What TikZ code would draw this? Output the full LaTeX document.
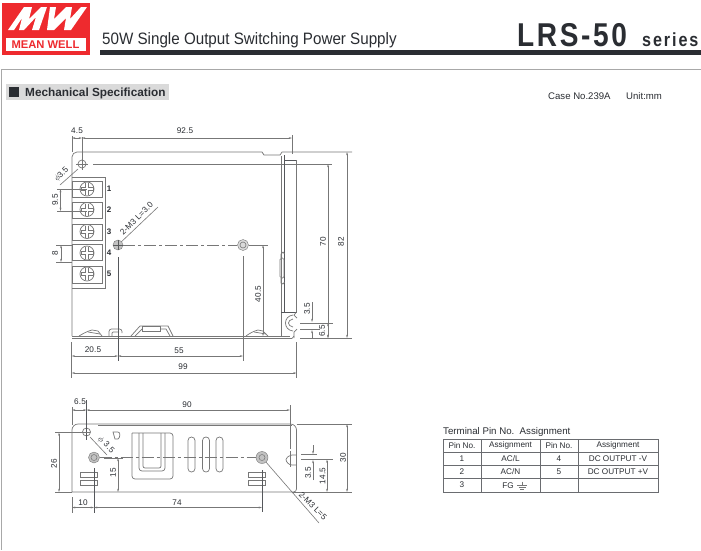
\documentclass[tikz,border=0pt]{standalone}
\usepackage{fontspec}
\setmainfont{Liberation Sans}
\usetikzlibrary{arrows.meta}
\definecolor{ink}{HTML}{2A2D32}
\definecolor{mwred}{HTML}{EE2A2E}
\definecolor{edge}{HTML}{777777}
\definecolor{band}{HTML}{DADADA}
\definecolor{frameg}{HTML}{A8A8A8}
\newcommand{\dimfont}{\fontsize{8.2}{9}\selectfont\addfontfeatures{LetterSpace=2}}
\tikzset{
  x=1pt,y=-1pt,
  lbl/.style={inner sep=0pt,text=ink,font=\dimfont},
  vlbl/.style={lbl,rotate=90},
  part/.style={draw=edge,line width=0.7pt},
  dark/.style={draw=ink!80,line width=0.7pt},
  ext/.style={draw=edge,line width=0.6pt},
  dimline/.style={draw=edge,line width=0.6pt,{Stealth[length=3.2pt,width=1.8pt]}-{Stealth[length=3.2pt,width=1.8pt]}},
  tipend/.style={draw=edge,line width=0.6pt,-{Stealth[length=3.2pt,width=1.8pt]}},
  center line/.style={draw=edge,line width=0.6pt,dash pattern=on 12pt off 3pt on 3pt off 3pt},
  cellt/.style={inner sep=0pt,text=ink,font=\fontsize{8.2}{9}\selectfont},
  tbl/.style={draw=ink!70,line width=0.7pt},
}
\begin{document}
\begin{tikzpicture}
\useasboundingbox (0,0) rectangle (701,550);
\fill[white] (0,0) rectangle (701,550);
% header
\fill[mwred] (1.5,3) rectangle (89.5,54.5);
\fill[white] (8,30)--(24,7)--(32,7)--(29,19)--(41,7)--(47,7)--(39,30)--(32,30)--(36,17)--(24,30)--(19,30)--(22,18)--(14,30)--cycle;
\fill[white] (50,7)--(56,7)--(54,19)--(66,7)--(72,7)--(70,19)--(81,7)--(87,7)--(71,30)--(64,30)--(66,18)--(54,30)--(47,30)--cycle;
\fill[white] (6,38) rectangle (86,51);
\node[inner sep=0pt,text=mwred,font=\fontsize{11.2}{12}\selectfont\bfseries] (brand) at (45.5,44.7) {MEAN WELL};
\fill[ink] (100,50) rectangle (701,55);
\node[anchor=base west,inner sep=0pt,text=ink,font=\fontsize{16.5}{18}\selectfont\addfontfeatures{FakeStretch=0.92}] (title) at (102,44.5) {50W Single Output Switching Power Supply};
\node[anchor=base west,inner sep=0pt,text=ink,font=\fontsize{33}{34}\selectfont\bfseries\addfontfeatures{FakeStretch=0.85,LetterSpace=8}] (model) at (517,46) {LRS-50};
\node[anchor=base west,inner sep=0pt,text=ink,font=\fontsize{19}{20}\selectfont\bfseries\addfontfeatures{FakeStretch=0.85,LetterSpace=10}] (seriesword) at (642,46) {series};
\draw[frameg,line width=0.8pt] (701,69)--(1.5,69)--(1.5,550);
\fill[band] (5.5,84) rectangle (169,100);
\fill[ink] (9,87) rectangle (18.5,97);
\node[anchor=base west,inner sep=0pt,text=ink,font=\fontsize{11.8}{13}\selectfont\bfseries] (mech) at (25,96.5) {Mechanical Specification};
\node[anchor=base west,inner sep=0pt,text=ink,font=\fontsize{9.6}{11}\selectfont] (case) at (548,99.5) {Case No.239A};
\node[anchor=base west,inner sep=0pt,text=ink,font=\fontsize{9.6}{11}\selectfont] (unit) at (626,99.5) {Unit:mm};

% ===== top view =====
\draw[part] (93,164)--(332,164);
\draw[part] (72,336) [rounded corners=5pt] -- (72,152) [sharp corners] -- (262,152) -- (264,155) -- (280,155) -- (282,152) -- (352,152);
\draw[part] (281,156)--(281,336);
\draw[dark] (284.5,155)--(284.5,312);
\draw[dark] (284.5,160)--(296.5,160);
\draw[part] (296.5,160)--(296.5,312);
\draw[dark] (281,312)--(296.5,312);
\draw[part] (72,336)--(290,336);
\draw[part] (72,338.5)--(292,338.5);
\draw[part] (292,338.5)--(294,336);
% corner notch
\draw[part] (296.5,312)--(294,315)--(297,318);
\draw[part] (297,329)--(294,332)--(294,338);
\draw[part] (293,315) .. controls (283,316) and (283,330) .. (293,331);
\draw[part] (293,319) .. controls (287,320) and (287,326) .. (293,327);
% side clip
\draw[part,rounded corners=1.5pt] (280,258) rectangle (284,278);
\draw[part] (281,258)--(281,254)--(283,252)--(284.5,254);
\draw[part] (281,278)--(281,283)--(283,284)--(284.5,282);
% terminal block
\draw[part] (72,177)--(105,177)--(105,288)--(72,288);
\foreach \yt/\yb/\yc/\lab in {181/197/189/1,202/218/209.5/2,224/240/231.5/3,244.5/260.5/253/4,266/283/274/5}{
  \draw[part] (72,\yt) rectangle (102,\yb);
  \draw[part] (87,\yc) circle[radius=7];
  \draw[part] (85.5,\yc-6) -- (85.5,\yc-1.5) -- (81,\yc-1.5) -- (81,\yc+1.5) -- (85.5,\yc+1.5) -- (85.5,\yc+6);
  \draw[part] (88.5,\yc-6) -- (88.5,\yc-1.5) -- (93,\yc-1.5) -- (93,\yc+1.5) -- (88.5,\yc+1.5) -- (88.5,\yc+6);
  \node[inner sep=0pt,text=ink,font=\fontsize{8}{9}\selectfont\bfseries] (pin\lab) at (109,\yc) {\lab};
}
% tabs on bottom
\draw[part] (79,336) .. controls (84,333) and (88,331) .. (92,330) -- (98,331) -- (102,336);
\draw[part] (88,332) -- (100,334);
\draw[part,rounded corners=2.5pt] (109,336)--(109,329)--(122,329)--(122,333);
\draw[part,rounded corners=1pt] (112,336)--(112,332)--(119,332);
\draw[part] (131,336)--(140,326)--(168,326)--(173,336);
\draw[part] (135,336)--(142,329)--(166,329)--(170,336);
\draw[part,fill=white] (142,326) rectangle (160,331);
\draw[part] (246,336) .. controls (250,333) and (254,331) .. (258,330) -- (263,331) -- (268,336);
\draw[part] (254,332) -- (266,334);
% holes
\coordinate (holeA) at (82,164);
\draw[part] (holeA) circle[radius=4];
\draw[part] (82,137)--(82,170);
\draw[part] (76,164)--(88,164);
\node[draw=edge,circle,fill=edge!45,minimum size=10pt,inner sep=0pt] (mountA) at (118,245) {};
\node[draw=edge,circle,fill=band,minimum size=11pt,inner sep=0pt] (mountB) at (243,245) {};
\draw[edge!60!ink,line width=0.4pt] (113,245)--(123,245) (118,240)--(118,250);
\draw[edge,line width=0.6pt] (243,245) circle[radius=3];
\draw[center line] (mountA)--(mountB);
\draw[ext] (mountB)--(268,245);
% dims top view
\node[lbl] (d45) at (77,131) {4.5};
\node[lbl] (d925) at (185,131) {92.5};
\draw[ext] (72,136)--(72,152);
\draw[ext] (292,135)--(292,154);
\draw[dimline] (72,138)--(82,138);
\draw[dimline] (82,138)--(292,138);
\draw[ext] (60,185)--(78,169);
\node[lbl,rotate=45] (phiA) at (61.5,174.5) {$\phi$3.5};
\draw[ext] (57,189)--(87,189);
\draw[ext] (57,211)--(87,211);
\draw[dimline] (60.5,189)--(60.5,211);
\node[vlbl] (d95) at (55,200) {9.5};
\draw[ext] (56,245)--(72,245);
\draw[ext] (56,262)--(72,262);
\draw[dimline] (61,245)--(61,262);
\node[vlbl] (d8) at (55,253.5) {8};
\draw[ext] (mountA)--(158,207);
\node[lbl,rotate=45] (m3a) at (136.5,218.5) {2-M3 L=3.0};
\draw[ink!80,line width=0.6pt] (118,257)--(118,361);
\draw[ext] (243,256)--(243,361);
\draw[ext] (71.7,342)--(71.7,378);
\draw[ext] (296.5,342)--(296.5,378);
\draw[dimline] (71.7,356)--(118,356);
\draw[dimline] (118,356)--(243,356);
\draw[dimline] (71.7,373)--(296.5,373);
\node[lbl] (d205) at (93,350) {20.5};
\node[lbl] (d55) at (179,351) {55};
\node[lbl] (d99) at (183,367) {99};
\draw[dimline] (328,164)--(328,338);
\draw[dimline] (347,152)--(347,338);
\node[vlbl] (d70) at (323,242) {70};
\node[vlbl] (d82) at (341,242) {82};
\draw[dimline] (263,245)--(263,336);
\node[vlbl] (d405) at (258,294) {40.5};
\draw[ext] (300,338)--(352,338);
\draw[ext] (300,323)--(333,323);
\draw[ext] (300,329)--(320,329);
\draw[tipend] (312,302)--(312,322);
\draw[tipend] (312,338)--(312,330);
\node[vlbl] (d35a) at (307,309) {3.5};
\draw[dimline] (328,323)--(328,338);
\node[vlbl] (d65a) at (322,331) {6.5};

% ===== front view =====
\draw[part] (72,492) [rounded corners=6pt] -- (72,424) -- (296.5,424) [rounded corners=3pt] -- (296.5,492) [sharp corners] -- (72,492);
\draw[part] (98,425.5)--(292,425.5);
\draw[ext] (296.5,424)--(352,424);
\draw[ext] (55,492)--(72,492);
\draw[ext] (292,492)--(352,492);
\coordinate (holeB) at (86.5,432);
\draw[part] (holeB) circle[radius=4];
\draw[ink!80,line width=0.6pt] (86.5,400)--(86.5,440);
\draw[ext] (55,432.5)--(90,432.5);
\draw[part] (113,432)--(118,432) .. controls (121,432) and (120,438) .. (118,439) -- (115,439) -- cycle;
% U vent
\draw[part,rounded corners=3pt] (132,433) -- (132,479) -- (173,479) -- (173,433) -- (132,433);
\draw[part,rounded corners=3pt] (139,433)--(139,471)--(165,471)--(165,433);
\draw[part,rounded corners=2pt] (143,433)--(143,468)--(161,468)--(161,433);
\foreach \sx in {188,202.5,216}{
  \draw[part,rounded corners=3.4pt] (\sx,437) rectangle (\sx+7,472);
}
\draw[part] (80,472.5) rectangle (97,477.5);
\draw[part] (80,480) rectangle (97,485);
\draw[part] (248,472.5) rectangle (265,477.5);
\draw[part] (248,480) rectangle (265,485);
\node[draw=edge,circle,fill=edge!45,minimum size=11pt,inner sep=0pt] (mountC) at (94,457.5) {};
\node[draw=edge,circle,fill=edge!45,minimum size=12pt,inner sep=0pt] (mountD) at (262,457.5) {};
\draw[edge,line width=0.5pt] (94,457.5) circle[radius=3];
\draw[edge,line width=0.5pt] (262,457.5) circle[radius=3];
\draw[center line] (mountC)--(mountD);
\draw[ext] (104,458)--(123,458);
\draw[part] (296.5,455)--(292,455) .. controls (288,456) and (286,458) .. (286,459.5) .. controls (286,462) and (289,465) .. (292,465) -- (296.5,465);
% dims front view
\node[lbl] (d65b) at (80,402) {6.5};
\node[lbl] (d90) at (187,405) {90};
\draw[ext] (72,407)--(72,425);
\draw[ext] (290,405)--(290,449);
\draw[ext] (290,451)--(290,467);
\draw[dimline] (72,410)--(86.5,410);
\draw[dimline] (86.5,410)--(290,410);
\draw[dimline] (59,432.5)--(59,492);
\node[vlbl] (d26) at (54,464) {26};
\draw[ext] (90,437)--(107,455);
\node[lbl,rotate=-45] (phiB) at (106,445) {$\phi$ 3.5};
\draw[dimline] (118,458)--(118,492);
\node[vlbl] (d15) at (113,473) {15};
\draw[ink!80,line width=0.6pt] (94,468)--(94,513);
\draw[ink!80,line width=0.6pt] (262,470)--(262,512);
\draw[ext] (72,497)--(72,513);
\draw[dimline] (72,507.5)--(94,507.5);
\draw[dimline] (94,507.5)--(262,507.5);
\node[lbl] (d10) at (83,503) {10};
\node[lbl] (d74) at (177,503) {74};
\draw[dimline] (347,424)--(347,492);
\node[vlbl] (d30) at (343,458) {30};
\draw[dimline] (327,459.5)--(327,492);
\node[vlbl] (d145) at (322.5,476) {14.5};
\draw[ext] (301,454.5)--(317,454.5);
\draw[ext] (301,459.5)--(333,459.5);
\draw[tipend] (313,445)--(313,454);
\draw[tipend] (313,480)--(313,460);
\node[vlbl] (d35b) at (308,473) {3.5};
\draw[ext] (mountD)--(319,523);
\node[lbl,rotate=-45] (m3b) at (313,506) {2-M3 L=5};

% ===== table =====
\node[anchor=base west,inner sep=0pt,text=ink,font=\fontsize{9.7}{11}\selectfont] (tabtitle) at (443,434.5) {Terminal Pin No.\ \ Assignment};
\draw[tbl] (443,439) rectangle (658,492);
\foreach \yy in {452,465,478}{\draw[tbl] (443,\yy)--(658,\yy);}
\foreach \xx in {481,540,578}{\draw[tbl] (\xx,439)--(\xx,492);}
\foreach \cx/\cy/\ct in {462/445.5/{Pin No.},510.5/445.5/{Assignment},559/445.5/{Pin No.},618/445.5/{Assignment},
  462/458.5/{1},510.5/458.5/{AC/L},559/458.5/{4},618/458.5/{DC OUTPUT -V},
  462/471.5/{2},510.5/471.5/{AC/N},559/471.5/{5},618/471.5/{DC OUTPUT +V},
  462/485/{3}}{
  \node[cellt] at (\cx,\cy) {\ct};
}
\node[cellt] (fg) at (508,485.5) {FG};
\draw[edge,line width=0.5pt] (522,481.5)--(522,485.5) (517,485.5)--(527,485.5) (518.5,487.5)--(525.5,487.5) (520,489.5)--(524,489.5);
\end{tikzpicture}
\end{document}
